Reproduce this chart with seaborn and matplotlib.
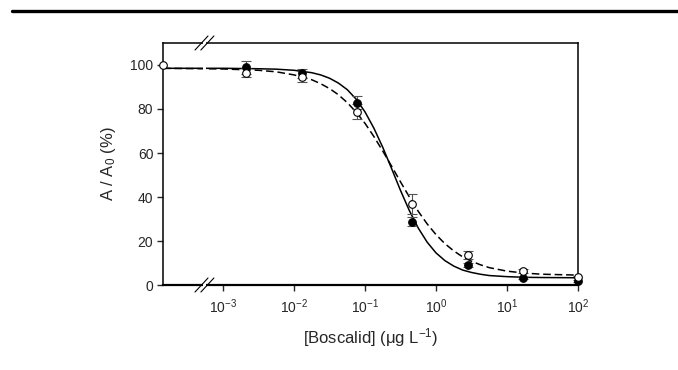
import pandas as pd
import matplotlib
matplotlib.use("Agg")
import matplotlib.pyplot as plt
import seaborn as sns
from matplotlib.lines import Line2D
from matplotlib.patches import Rectangle
from matplotlib.ticker import NullLocator

# measured concentrations (ug/L) and responses (%)
conc = [0.00214, 0.0129, 0.077, 0.46, 2.78, 16.7, 100.0]
closed_mean = [98.9, 96.2, 82.9, 28.8, 9.0, 3.3, 1.8]
closed_err = [3.0, 2.0, 3.0, 2.0, 1.0, 0.5, 0.5]
open_mean = [96.5, 94.7, 78.8, 36.7, 13.6, 6.4, 3.5]
open_err = [2.0, 2.5, 3.5, 4.5, 2.0, 1.0, 0.5]

# control (0 ug/L) shown at the left edge behind the axis break
control_x = 10 ** -3.845
control_value = 100.0

# fitted dose-response curves
curve_logx = [-3.845, -3.0, -2.5, -2.25, -2.0, -1.75, -1.625, -1.5, -1.375, -1.25, -1.125,
              -1.0, -0.875, -0.75, -0.625, -0.5, -0.375, -0.25, -0.125, 0.0, 0.125,
              0.25, 0.375, 0.5, 0.625, 0.75, 1.0, 1.25, 1.5, 2.0]
solid_curve = [98.5, 98.5, 98.3, 98.1, 97.6, 96.5, 95.5, 94.0, 91.8, 88.8, 84.5,
               78.7, 71.3, 62.6, 52.9, 43.0, 33.8, 25.9, 19.5, 14.6, 11.1,
               8.6, 6.8, 5.7, 4.9, 4.3, 3.8, 3.5, 3.4, 3.3]
dashed_curve = [98.5, 98.2, 97.6, 96.9, 95.5, 93.3, 91.5, 89.3, 86.5, 82.9, 78.6,
                73.5, 67.5, 60.9, 54.0, 46.9, 40.0, 33.5, 27.8, 22.9, 18.8,
                15.5, 12.8, 10.8, 9.2, 7.9, 6.3, 5.4, 4.9, 4.5]

sns.set_style("ticks")
plt.rcParams["font.family"] = ["Liberation Sans", "DejaVu Sans"]
plt.rcParams["mathtext.default"] = "regular"

curves = pd.DataFrame({
    "conc": [10 ** v for v in curve_logx] * 2,
    "value": solid_curve + dashed_curve,
    "fit": ["solid"] * len(curve_logx) + ["dashed"] * len(curve_logx),
})

fig = plt.figure(figsize=(6.78, 3.70), dpi=100)
ax = fig.add_axes([0.2404, 0.2297, 0.6121, 0.6541])

sns.lineplot(data=curves, x="conc", y="value", style="fit",
             dashes={"solid": "", "dashed": (5, 2.5)}, color="black",
             linewidth=1.1, legend=False, ax=ax, zorder=2)

ax.errorbar(conc, closed_mean, yerr=closed_err, fmt="none", ecolor="#555555",
            elinewidth=0.8, capsize=3.5, capthick=0.8, zorder=3)
ax.errorbar(conc, open_mean, yerr=open_err, fmt="none", ecolor="#555555",
            elinewidth=0.8, capsize=3.5, capthick=0.8, zorder=3)

sns.scatterplot(x=conc, y=closed_mean, marker="o", s=30, color="black",
                edgecolor="black", linewidth=0.8, ax=ax, zorder=4, clip_on=False)
sns.scatterplot(x=conc + [control_x], y=open_mean + [control_value], marker="o", s=30,
                color="white", edgecolor="black", linewidth=0.8, ax=ax, zorder=5,
                clip_on=False)

ax.set_xscale("log")
ax.set_xlim(10 ** -3.845, 100)
ax.set_ylim(0, 110)
ax.set_xticks([1e-3, 1e-2, 1e-1, 1e0, 1e1, 1e2])
ax.set_xticklabels([f"$10^{{{e}}}$" for e in range(-3, 3)])
ax.xaxis.set_minor_locator(NullLocator())
ax.set_yticks([0, 20, 40, 60, 80, 100])
ax.tick_params(axis="both", direction="out", length=4, width=1, labelsize=10, pad=3)
ax.tick_params(axis="x", pad=5)

for side, sp in ax.spines.items():
    sp.set_visible(True)
    sp.set_color("black")
    sp.set_linewidth(1.1)
ax.spines["bottom"].set_linewidth(1.6)

ax.set_xlabel("[Boscalid] (μg L$^{-1}$)", fontsize=12, labelpad=7)
ax.set_ylabel("A / A$_0$ (%)", fontsize=12, labelpad=9)

# axis break near the left edge
ax.add_patch(Rectangle((0.0955, -0.02), 0.009, 1.04, transform=ax.transAxes,
                       facecolor="white", edgecolor="none", zorder=6, clip_on=False))
for xc in (0.0928, 0.107):
    for yc in (0.0, 1.0):
        ax.add_line(Line2D([xc - 0.0157, xc + 0.0157], [yc - 0.029, yc + 0.029],
                           transform=ax.transAxes, color="black", lw=0.8,
                           zorder=7, clip_on=False))

# rule across the top of the page
fig.add_artist(Line2D([0.018, 1.0], [0.970, 0.970], transform=fig.transFigure,
                      color="black", lw=2.4))

fig.savefig("out.png", dpi=100)
